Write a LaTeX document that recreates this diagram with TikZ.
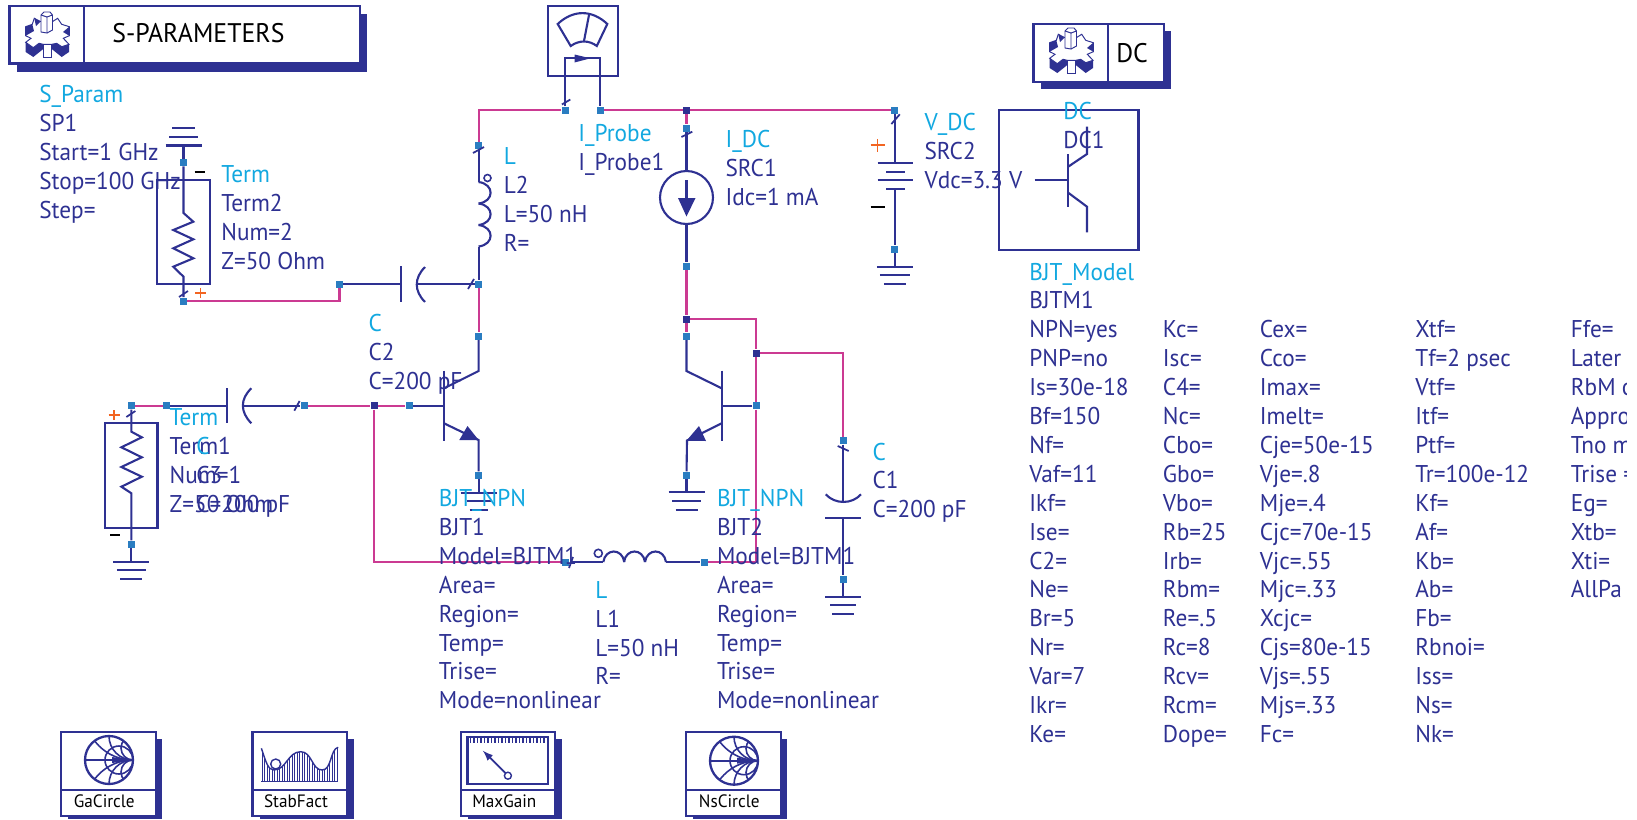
\documentclass[tikz,border=0pt]{standalone}
\usepackage{fontspec}
\setmainfont[FakeStretch=0.96]{PT Sans}
\usepackage{tikz}
\usetikzlibrary{calc}
\usetikzlibrary{arrows}
\usetikzlibrary{positioning}

\definecolor{navy}{HTML}{2E3192}
\definecolor{magent}{HTML}{CB3A92}
\definecolor{pinblue}{HTML}{2A7DC1}
\definecolor{headblue}{HTML}{12A8E0}
\definecolor{plusorange}{HTML}{F26522}

\tikzset{
  wire/.style={navy, line width=1.2pt},
  pinkwire/.style={magent, line width=1.25pt},
  tick/.style={navy, line width=1pt},
  pin/.style={rectangle, fill=pinblue, inner sep=0pt, minimum size=0.14cm},
  darkpin/.style={rectangle, fill=navy, inner sep=0pt, minimum size=0.14cm},
  lbl/.style={anchor=base west, inner sep=0pt, yshift=-0.03cm, text=navy, font=\fontsize{13.8}{16}\selectfont},
  lblhead/.style={lbl, text=headblue},
  titletext/.style={anchor=base west, inner sep=0pt, text=black, font=\fontsize{15.3}{17}\selectfont},
  blocktext/.style={anchor=base, inner sep=0pt, text=black, font=\fontsize{10.2}{12}\selectfont},
  minussign/.style={black, line width=1.2pt},
  plussign/.style={plusorange, line width=1pt},
}

\newcommand{\pcol}[4]{%
  \foreach \txt [count=\n] in {#4} \node[lbl] (#1-\n) at (#2,#3+28.9*\n-28.9) {\txt};
}
\newcommand{\plist}[5]{%
  \node[lblhead] (#1-head) at (#2,#3) {#4};
  \pcol{#1}{#2}{#3+28.9}{#5}
}
\newcommand{\gnd}[7]{%
  \draw[wire] (#1-#2,#5) -- (#1+#2,#5);
  \draw[wire] (#1-#3,#6) -- (#1+#3,#6);
  \draw[wire] (#1-#4,#7) -- (#1+#4,#7);
}
\newcommand{\gearicon}[2]{%
  \begin{scope}[shift={(#1,#2)}, navy, line width=0.55pt]
    \fill (-21.3,7.3) -- (-21.3,17) -- (-13.7,22) -- (-3.7,14) -- (-3.7,9.3) -- (-8,8.3) -- (-13.7,12.7) -- cycle;
    \fill (22,9.3) -- (22,17) -- (14.7,22) -- (4.7,14) -- (4.7,9.3) -- (9.7,8.3) -- (14.7,11.7) -- cycle;
    \draw[fill=white] (-3.7,8) -- (-3.7,22) -- (4.7,22) -- (4.7,8);
    \draw[fill=white] (-12.7,-16.7) -- (-6,-13.3) -- (5.3,-13.3) -- (10.7,-16.7) -- (14.7,-10.7) -- (22.3,-8.3) -- (22.3,.7) -- (16.3,3.3) -- (22,9.3) -- (14.7,11.7) -- (9.7,8.3) -- (4.7,9.3) -- (-3.7,9.3) -- (-8,8.3) -- (-13.7,12.7) -- (-21.3,7.3) -- (-16,3.3) -- (-21.3,.7) -- (-21.3,-8.3) -- (-14.7,-10.7) -- cycle;
    \fill (-21.3,-8.3) -- (-14.7,-10.7) -- (-13,-4) -- (-21.3,.7) -- cycle;
    \fill (22.3,-8.3) -- (22.3,.7) -- (16,-3) -- cycle;
    \fill (-12.7,-16.7) -- (-6.5,-13.3) -- (-11,-9) -- cycle;
    \draw[fill=white] (-6,-3) -- (-6,-20) -- (-3,-23) -- (3,-23) -- (5.5,-20) -- (5.5,-5) -- (0,-2) -- cycle;
    \draw (-6,-20) -- (0,-18) -- (5.5,-20) (0,-18) -- (0,-2);
  \end{scope}
}
\newcommand{\smithicon}[2]{%
  \begin{scope}[shift={(#1,#2)}, navy]
    \begin{scope}
      \clip (0,0) circle[radius=24];
      \foreach \r in {12,24,48} {
        \draw[line width=0.9pt] (24,\r) circle[radius=\r];
        \draw[line width=0.9pt] (24,-\r) circle[radius=\r];
      }
      \draw[line width=0.9pt] (10,0) circle[radius=14];
    \end{scope}
    \fill (3,-3) -- (24,0) -- (3,3) -- cycle;
    \draw[line width=1.2pt] (-24,0) -- (24,0);
    \draw[line width=1.3pt] (0,0) circle[radius=24];
  \end{scope}
}
\newcommand{\simblock}[4]{%
  \fill[navy] (#2+7,739) rectangle (#2+101,819);
  \draw[wire, fill=white] (#2,731.7) rectangle (#2+94.6,815.7);
  \draw[wire] (#2,790.3) -- (#2+94.6,790.3);
  \node[blocktext] (#1) at (#3,807.5) {#4};
}

\begin{document}
\begin{tikzpicture}[x=0.02cm, y=-0.02cm]
  \useasboundingbox (0,0) rectangle (1637,819);

  % title blocks
  \fill[navy] (17.3,14) rectangle (367.3,71.7);
  \draw[wire, fill=white] (9.5,6) rectangle (360,63.5);
  \draw[wire] (84,6) -- (84,63.5);
  \node[titletext] (sptitle) at (112,42.7) {S-PARAMETERS};
  \gearicon{47}{35}
  \fill[navy] (1040.8,31) rectangle (1171,89);
  \draw[wire, fill=white] (1033.5,24) rectangle (1164,81.7);
  \draw[wire] (1107.7,24) -- (1107.7,81.7);
  \node[titletext] (dctitle) at (1116,62.7) {DC};
  \gearicon{1071}{51}

  % pins
  \node[pin] (l2top) at (478.6,145.5) {};
  \node[pin] (prl) at (565.2,110.3) {};
  \node[pin] (prr) at (600.2,110.3) {};
  \node[darkpin] (jdc) at (686.5,110.3) {};
  \node[pin] (vtop) at (894.8,110.3) {};
  \node[pin] (vbot) at (894.8,249.3) {};
  \node[pin] (itop) at (686.5,128.3) {};
  \node[pin] (ibot) at (686.5,266.3) {};
  \node[darkpin] (jq2) at (686.5,319) {};
  \node[pin] (q2c) at (686.5,336.3) {};
  \node[pin] (q2e) at (686.5,475.3) {};
  \node[darkpin] (jcap) at (756.3,353.3) {};
  \node[pin] (q2b) at (756.3,405.7) {};
  \node[pin] (c1top) at (843.3,440.7) {};
  \node[pin] (c1bot) at (843.3,579.3) {};
  \node[pin] (l1l) at (565.7,562) {};
  \node[pin] (l1r) at (704.3,562) {};
  \node[pin] (t2top) at (183.5,162.5) {};
  \node[pin] (t2bot) at (183.5,301) {};
  \node[pin] (c2l) at (339.5,284) {};
  \node[pin] (c2r) at (478.6,284) {};
  \node[pin] (q1c) at (478.6,336.3) {};
  \node[pin] (q1b) at (409.3,405.7) {};
  \node[pin] (q1e) at (478.6,475.3) {};
  \node[darkpin] (jq1) at (374.3,405.7) {};
  \node[pin] (c3r) at (304.3,405.7) {};
  \node[pin] (c3l) at (166.4,405.7) {};
  \node[pin] (t1top) at (131.4,405.7) {};
  \node[pin] (t1bot) at (131.4,544.3) {};

  % pink wires
  \draw[pinkwire] (l2top) |- (prl);
  \draw[pinkwire] (prr) -- (jdc);
  \draw[pinkwire] (jdc) -- (vtop);
  \draw[pinkwire] (jdc) -- (itop);
  \draw[pinkwire] (ibot) -- (jq2);
  \draw[pinkwire] (jq2) -- (q2c);
  \draw[pinkwire] (jq2) -| (jcap);
  \draw[pinkwire] (jcap) -- (q2b);
  \draw[pinkwire] (jcap) -| (c1top);
  \draw[pinkwire] (q2b) |- (l1r);
  \draw[pinkwire] (t2bot) -| (c2l);
  \draw[pinkwire] (c2r) -- (q1c);
  \draw[pinkwire] (t1top) -- (c3l);
  \draw[pinkwire] (c3r) -- (jq1);
  \draw[pinkwire] (jq1) -- (q1b);
  \draw[pinkwire] (jq1) |- (l1l);

  % probe
  \draw[wire] (548,6) rectangle (617.8,76);
  \draw[wire] (570.7,46) .. controls (579,40) and (589,40) .. (596.8,46) -- (607.3,24) .. controls (592,9.5) and (573,9.5) .. (557.7,24) -- cycle;
  \draw[wire] (584,41) -- (589,15);
  \draw[wire] (prl) -- (565.2,58.3) -- (600.2,58.3) -- (prr);
  \fill[navy] (574.5,54.5) -- (590.5,58.3) -- (574.5,62.5) -- cycle;
  \draw[tick] (561.9,104.5) -- (570.3,99.5);

  % L2
  \draw[tick] (473,153) -- (484,147);
  \draw[wire] (l2top) -- (478.6,182);
  \foreach \y in {182,203.5,225} \draw[wire] (478.6,\y) .. controls (494.6,\y+2) and (494.6,\y+19.5) .. (478.6,\y+21.5);
  \draw[wire] (478.6,246.5) -- (c2r);
  \draw[wire, line width=0.9pt] (487.5,178) circle[radius=3.5];

  % C2
  \draw[wire] (c2l) -- (401,284);
  \draw[wire] (401,266) -- (401,302);
  \draw[wire] (425,267) .. controls (414,278) and (414,291) .. (425,302);
  \draw[wire] (416.8,284) -- (c2r);
  \draw[tick] (468,289) -- (474,279);

  % Term2
  \gnd{183.5}{18}{14.5}{11.5}{145.5}{137}{128}
  \draw[wire] (183.5,145.5) -- (t2top);
  \draw[wire] (t2top) -- (183.5,213) -- (193.3,221.7) -- (173.3,230) -- (193.3,239.3) -- (173.3,248.3) -- (193.3,258.3) -- (173.3,266.7) -- (183.5,276.7) -- (t2bot);
  \draw[wire] (157,180) rectangle (210,284);
  \draw[tick] (179,297) -- (188,291);
  \draw[minussign] (194.5,172) -- (205,172);
  \draw[plussign] (195,293) -- (206,293) (200.5,288) -- (200.5,298);

  % I_DC
  \draw[tick] (681.4,137) -- (692.3,131.7);
  \node[draw=navy, line width=1.2pt, circle, inner sep=0pt, minimum size=1.06cm] (isrc) at (686.5,197.5) {};
  \draw[wire] (itop) -- (isrc);
  \draw[wire] (isrc) -- (ibot);
  \draw[wire] (686.5,180) -- (686.5,198);
  \fill[navy] (678,198) -- (695.5,198) -- (686.5,216.5) -- cycle;

  % V_DC
  \draw[tick] (891.4,124) -- (899.8,114.3);
  \draw[wire] (vtop) -- (894.8,162.7);
  \draw[wire] (877.5,162.7) -- (913.3,162.7);
  \draw[wire] (886,171.7) -- (905,171.7);
  \draw[wire] (877.5,180) -- (913.3,180);
  \draw[wire] (886,189) -- (905,189);
  \draw[wire] (894.8,189) -- (vbot);
  \draw[wire] (vbot) -- (894.8,266.7);
  \gnd{894.8}{18}{15}{11}{266.7}{275.3}{284.3}
  \draw[plussign] (870.5,145.3) -- (884.5,145.3) (877.5,138.8) -- (877.5,151.8);
  \draw[minussign] (870.5,207) -- (884.5,207);

  % model symbol
  \draw[wire] (999.2,110.3) rectangle (1138.5,250);
  \draw[wire] (1034.5,180) -- (1068.2,180);
  \draw[wire] (1068.2,154) -- (1068.2,206.7);
  \draw[wire] (1068.2,166.7) -- (1087,154) -- (1087,126.7);
  \draw[wire] (1068.2,192.7) -- (1087,206.7) -- (1087,232.3);

  % Term1, C3
  \draw[tick] (126.4,417) -- (135.4,411);
  \draw[wire] (t1top) -- (131.4,431.7) -- (141.8,437.3) -- (121.4,447.3) -- (141.8,457.3) -- (121.4,467) -- (141.8,476.7) -- (121.4,486.7) -- (131.4,493.3) -- (t1bot);
  \draw[wire] (105,423) rectangle (157.5,527.7);
  \draw[wire] (t1bot) -- (131.4,561.7);
  \gnd{131.4}{18}{14.5}{11}{561.7}{570.3}{579.3}
  \draw[plussign] (108.5,415) -- (119.5,415) (114,410) -- (114,420);
  \draw[minussign] (110,535.3) -- (120,535.3);
  \draw[wire] (c3l) -- (227,405.7);
  \draw[wire] (227,388.3) -- (227,423.3);
  \draw[wire] (251.4,388.3) .. controls (240,399) and (240,412) .. (251.4,423.3);
  \draw[wire] (242.7,405.7) -- (c3r);
  \draw[tick] (294.3,410.7) -- (299.6,401);

  % BJT1
  \draw[wire] (q1c) -- (478.6,371) -- (444,388.3);
  \draw[wire] (444,370.7) -- (444,441);
  \draw[wire] (q1b) -- (444,405.7);
  \draw[wire] (444,423.3) -- (478.6,440) -- (q1e);
  \fill[navy] (459.3,440) -- (467.5,426) -- (478.6,440) -- cycle;
  \draw[wire] (q1e) -- (478.6,492.7);
  \gnd{478.6}{18}{12}{9}{492.7}{501}{510}

  % BJT2
  \draw[wire] (q2c) -- (686.5,371) -- (721.7,388.3);
  \draw[wire] (721.7,370.7) -- (721.7,441.3);
  \draw[wire] (q2b) -- (721.7,405.7);
  \draw[wire] (721.7,423.3) -- (687,440.5) -- (q2e);
  \fill[navy] (686.5,440.7) -- (699,426) -- (706,441) -- cycle;
  \draw[wire] (q2e) -- (686.5,492.3);
  \gnd{686.5}{18}{14.5}{11}{492.3}{501}{510}

  % L1
  \draw[wire] (l1l) -- (603.3,562);
  \foreach \x in {603.3,624,645} \draw[wire] (\x,562) .. controls (\x+2,548) and (\x+19,548) .. (\x+21,562);
  \draw[wire] (666,562) -- (l1r);
  \draw[wire, line width=0.9pt] (598.3,553.3) circle[radius=4];
  \draw[tick] (569,568) -- (573,557);

  % C1
  \draw[tick] (837.7,446) -- (848.7,451);
  \draw[wire] (c1top) -- (843.3,501.7);
  \draw[wire] (825.7,494.3) .. controls (835,504.5) and (852,504.5) .. (861,494.3);
  \draw[wire] (825,518) -- (861,518);
  \draw[wire] (843.3,518) -- (c1bot);
  \draw[wire] (c1bot) -- (843.3,596.7);
  \gnd{843.3}{18}{13}{11}{596.7}{605.3}{614}

  % labels
  \plist{sparam}{39}{101}{S\_Param}{SP1,Start=1 GHz,Stop=100 GHz,Step=}
  \plist{term2}{221}{181}{Term}{Term2,Num=2,Z=50 Ohm}
  \plist{lb}{503.4}{163.3}{L}{L2,L=50 nH,R=}
  \plist{prb}{578}{140}{I\_Probe}{I\_Probe1}
  \plist{idc}{725.2}{146}{I\_DC}{SRC1,Idc=1 mA}
  \plist{vdc}{924.2}{129.3}{V\_DC}{SRC2,Vdc=3.3 V}
  \plist{dc}{1063}{118.3}{DC}{DC1}
  \plist{cb}{368.2}{330}{C}{C2,C=200 pF}
  \plist{term1}{169.3}{424}{Term}{Term1,Num=1,Z=50 Ohm}
  \plist{cc}{196}{453.3}{C}{C3,C=200 pF}
  \plist{bjta}{438.6}{505}{BJT\_NPN}{BJT1,Model=BJTM1,Area=,Region=,Temp=,Trise=,Mode=nonlinear}
  \plist{bjtb}{716.7}{505}{BJT\_NPN}{BJT2,Model=BJTM1,Area=,Region=,Temp=,Trise=,Mode=nonlinear}
  \plist{la}{595}{596.7}{L}{L1,L=50 nH,R=}
  \plist{ca}{872.3}{458.5}{C}{C1,C=200 pF}

  % model table
  \plist{model}{1029}{278.5}{BJT\_Model}{BJTM1,NPN=yes,PNP=no,Is=30e-18,Bf=150,Nf=,Vaf=11,Ikf=,Ise=,C2=,Ne=,Br=5,Nr=,Var=7,Ikr=,Ke=}
  \pcol{colb}{1162.6}{336.3}{Kc=,Isc=,C4=,Nc=,Cbo=,Gbo=,Vbo=,Rb=25,Irb=,Rbm=,Re=.5,Rc=8,Rcv=,Rcm=,Dope=}
  \pcol{colc}{1259.5}{336.3}{Cex=,Cco=,Imax=,Imelt=,Cje=50e-15,Vje=.8,Mje=.4,Cjc=70e-15,Vjc=.55,Mjc=.33,Xcjc=,Cjs=80e-15,Vjs=.55,Mjs=.33,Fc=}
  \pcol{cold}{1415}{336.3}{Xtf=,Tf=2 psec,Vtf=,Itf=,Ptf=,Tr=100e-12,Kf=,Af=,Kb=,Ab=,Fb=,Rbnoi=,Iss=,Ns=,Nk=}
  \begin{scope}
    \clip (1560,320) rectangle (1626,640);
    \pcol{cole}{1570.5}{336.3}{Ffe=,Later a,RbM o,Appro,Tno m,Trise =,Eg=,Xtb=,Xti=,AllPa}
  \end{scope}

  % simulation blocks
  \simblock{gacircle}{61.4}{104.3}{GaCircle}
  \smithicon{109}{760}
  \simblock{stabfact}{252.5}{296}{StabFact}
  \begin{scope}
    \clip (261.4,748.3) .. controls (266,762) and (268,770) .. (274,770) .. controls (286,770) and (288,751.7) .. (300.7,751.7) .. controls (312,751.7) and (312,770) .. (322,770) .. controls (332,770) and (330,749) .. (338.2,747.3) -- (338.2,781.7) -- (261.4,781.7) -- cycle;
    \foreach \x in {262,264.5,...,338} \draw[navy, line width=0.35pt] (\x,740) -- (\x,782);
  \end{scope}
  \draw[navy, line width=0.8pt] (261.4,748.3) .. controls (266,762) and (268,770) .. (274,770) .. controls (286,770) and (288,751.7) .. (300.7,751.7) .. controls (312,751.7) and (312,770) .. (322,770) .. controls (332,770) and (330,749) .. (338.2,747.3);
  \draw[navy, line width=0.8pt] (261.4,781.7) -- (338.2,781.7);
  \draw[navy, line width=0.8pt, fill=white] (275.7,764) circle[radius=5];
  \simblock{maxgain}{460.7}{504.3}{MaxGain}
  \draw[wire] (467.5,736.7) rectangle (547.9,784.3);
  \foreach \x in {470.5,474,...,546} \draw[navy, line width=0.6pt] (\x,737) -- (\x,743);
  \draw[navy, line width=1pt, -latex] (505.5,773) -- (482.9,750.7);
  \draw[navy, line width=0.8pt, fill=white] (507.9,775.7) circle[radius=3.5];
  \simblock{nscircle}{686.3}{729.3}{NsCircle}
  \smithicon{734}{760.7}
\end{tikzpicture}
\end{document}
